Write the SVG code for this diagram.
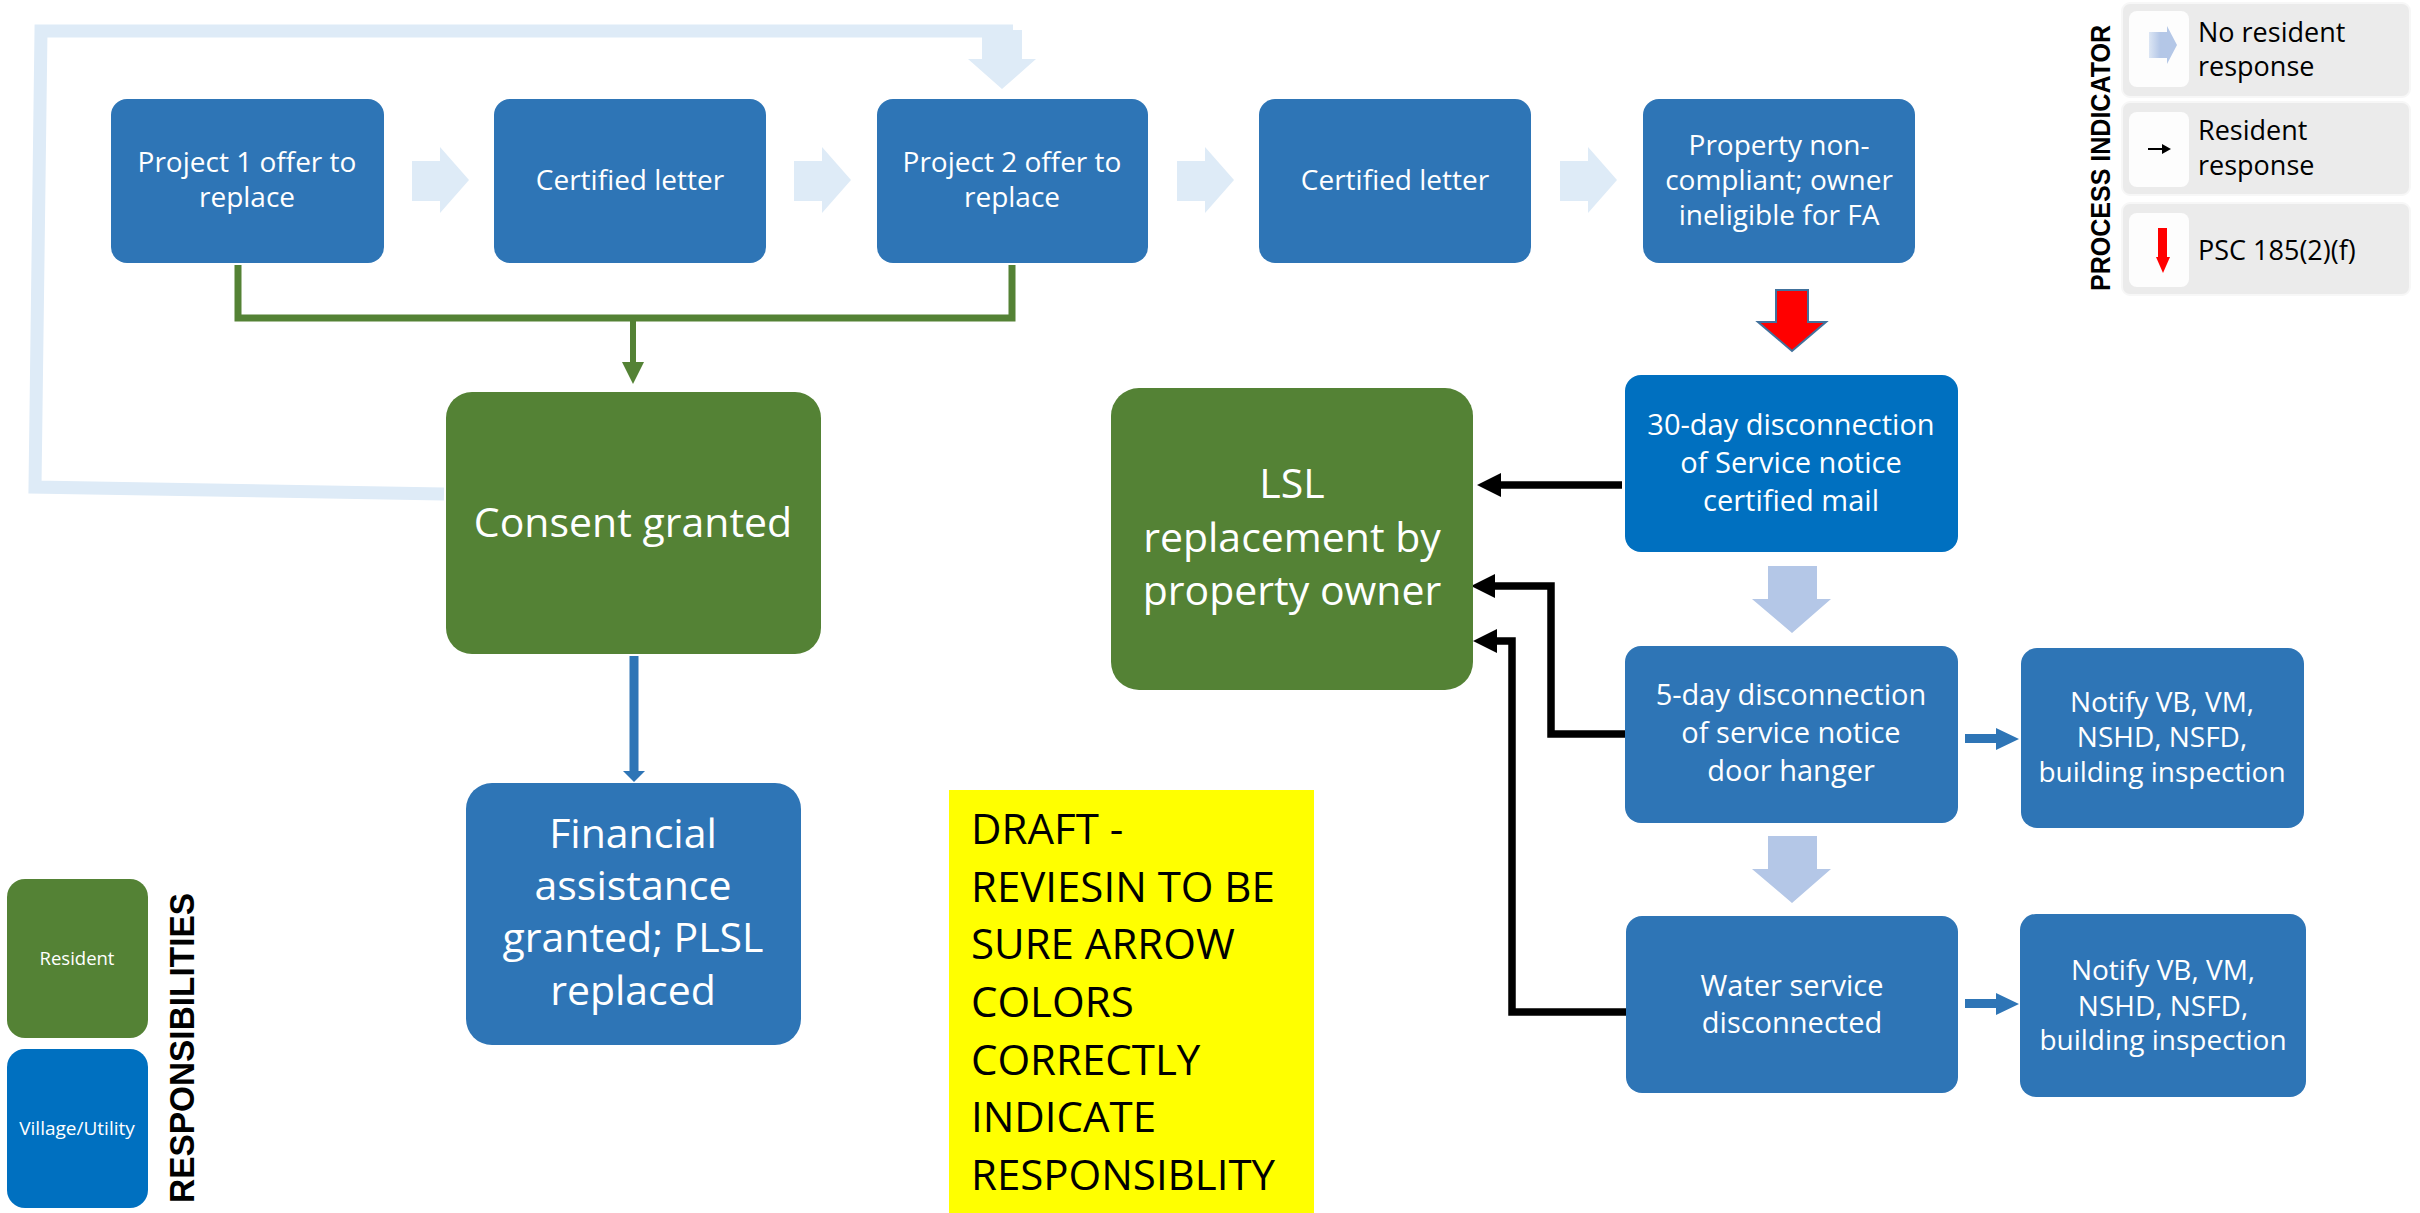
<svg xmlns="http://www.w3.org/2000/svg" width="2420" height="1213" viewBox="0 0 2420 1213">
<style>
.box{fill:#2E75B6}
.res{fill:#548235}
.vil{fill:#0070C0}
.t{font-family:'Open Sans','Liberation Sans',sans-serif;fill:#FFFFFF;text-anchor:middle}
.k{font-family:'Open Sans','Liberation Sans',sans-serif;fill:#000000}
.f28{font-size:28px}
.f29{font-size:29px}
.f41{font-size:41px}
.lg{font-size:27px}
.bold{font-family:'Liberation Sans',Arial,sans-serif;font-weight:bold;fill:#000000;text-anchor:middle}
.blk{fill:none;stroke:#000000;stroke-width:7.5;stroke-linejoin:miter}
.chev{fill:#DEEBF7}
.down{fill:#B4C7E7}
.sm{fill:#2E75B6}
.panel{fill:#EBEBEB;stroke:#F7F7F7;stroke-width:2}
.inner{fill:#FDFDFD}
</style>
<defs>
<marker id="mBlack" markerUnits="userSpaceOnUse" viewBox="0 0 24 24" markerWidth="24" markerHeight="24" refX="0" refY="12" orient="auto">
<path d="M0,0 L24,12 L0,24 z" fill="#000000"/>
</marker>
<marker id="mGreen" markerUnits="userSpaceOnUse" viewBox="0 0 22 22" markerWidth="22" markerHeight="22" refX="0" refY="11" orient="auto">
<path d="M0,0 L22,11 L0,22 z" fill="#548235"/>
</marker>
<marker id="mBlue" markerUnits="userSpaceOnUse" viewBox="0 0 11 22" markerWidth="11" markerHeight="22" refX="0" refY="11" orient="auto">
<path d="M0,0 L11,11 L0,22 z" fill="#2E75B6"/>
</marker>
<polygon id="chevron" points="412,161 440,161 440,147 469,180 440,213 440,201 412,201"/>
<polygon id="downArrow" points="1768,566 1817,566 1817,599 1831,599 1792,633 1752,599 1768,599"/>
<polygon id="smallArrow" points="1965,734 1996,734 1996,728 2019,739 1996,750 1996,743 1965,743"/>
<linearGradient id="gLeg" x1="0" y1="0" x2="1" y2="0">
<stop offset="0" stop-color="#DCE6F4"/>
<stop offset="0.4" stop-color="#B4C7E7"/>
<stop offset="1" stop-color="#B4C7E7"/>
</linearGradient>
</defs>

<g id="connectors">
<polyline points="444,494 35,487 41,31 1013,31" fill="none" stroke="#DEEBF7" stroke-width="13" stroke-linejoin="miter"/>
<polygon class="chev" points="982,30 1022,30 1022,59 1036,59 1002,89 968,59 982,59"/>
<use href="#chevron" class="chev"/>
<use href="#chevron" class="chev" x="382"/>
<use href="#chevron" class="chev" x="765"/>
<use href="#chevron" class="chev" x="1148"/>
<path d="M238,265 V318 H1012 V265" fill="none" stroke="#548235" stroke-width="7" stroke-linejoin="miter"/>
<path d="M633,318 V362" fill="none" stroke="#548235" stroke-width="6" marker-end="url(#mGreen)"/>
<path d="M634,656 V771" fill="none" stroke="#2E75B6" stroke-width="9" marker-end="url(#mBlue)"/>
<polygon points="1776,290 1808,290 1808,322 1826,322 1792,351 1758,322 1776,322" fill="#FF0000" stroke="#41719C" stroke-width="2"/>
<use href="#downArrow" class="down"/>
<use href="#downArrow" class="down" y="270"/>
<use href="#smallArrow" class="sm"/>
<use href="#smallArrow" class="sm" y="265"/>
<path class="blk" d="M1622,485 H1501" marker-end="url(#mBlack)"/>
<path class="blk" d="M1628,734 H1551 V586 H1495" marker-end="url(#mBlack)"/>
<path class="blk" d="M1627,1012 H1512 V641 H1497" marker-end="url(#mBlack)"/>
</g>

<g id="project1">
<rect class="box" x="111" y="99" width="273" height="164" rx="16"/>
<text class="t f28" x="247" y="172">Project 1 offer to</text>
<text class="t f28" x="247" y="207">replace</text>
</g>
<g id="certified1">
<rect class="box" x="494" y="99" width="272" height="164" rx="16"/>
<text class="t f28" x="630" y="190">Certified letter</text>
</g>
<g id="project2">
<rect class="box" x="877" y="99" width="271" height="164" rx="16"/>
<text class="t f28" x="1012" y="172">Project 2 offer to</text>
<text class="t f28" x="1012" y="207">replace</text>
</g>
<g id="certified2">
<rect class="box" x="1259" y="99" width="272" height="164" rx="16"/>
<text class="t f28" x="1395" y="190">Certified letter</text>
</g>
<g id="noncompliant">
<rect class="box" x="1643" y="99" width="272" height="164" rx="16"/>
<text class="t f28" x="1779" y="155">Property non-</text>
<text class="t f28" x="1779" y="190">compliant; owner</text>
<text class="t f28" x="1779" y="225">ineligible for FA</text>
</g>
<g id="consent">
<rect class="res" x="446" y="392" width="375" height="262" rx="26"/>
<text class="t f41" x="633" y="537">Consent granted</text>
</g>
<g id="financial">
<rect class="box" x="466" y="783" width="335" height="262" rx="26"/>
<text class="t f41" x="633" y="848">Financial</text>
<text class="t f41" x="633" y="900">assistance</text>
<text class="t f41" x="633" y="952">granted; PLSL</text>
<text class="t f41" x="633" y="1005">replaced</text>
</g>
<g id="lsl">
<rect class="res" x="1111" y="388" width="362" height="302" rx="28"/>
<text class="t f41" x="1292" y="498">LSL</text>
<text class="t f41" x="1292" y="552">replacement by</text>
<text class="t f41" x="1292" y="605">property owner</text>
</g>
<g id="day30">
<rect class="vil" x="1625" y="375" width="333" height="177" rx="16"/>
<text class="t f29" x="1791" y="435">30-day disconnection</text>
<text class="t f29" x="1791" y="473">of Service notice</text>
<text class="t f29" x="1791" y="511">certified mail</text>
</g>
<g id="day5">
<rect class="box" x="1625" y="646" width="333" height="177" rx="16"/>
<text class="t f29" x="1791" y="705">5-day disconnection</text>
<text class="t f29" x="1791" y="743">of service notice</text>
<text class="t f29" x="1791" y="781">door hanger</text>
</g>
<g id="water">
<rect class="box" x="1626" y="916" width="332" height="177" rx="16"/>
<text class="t f29" x="1792" y="996">Water service</text>
<text class="t f29" x="1792" y="1033">disconnected</text>
</g>
<g id="notify1">
<rect class="box" x="2021" y="648" width="283" height="180" rx="16"/>
<text class="t f28" x="2162" y="712">Notify VB, VM,</text>
<text class="t f28" x="2162" y="747">NSHD, NSFD,</text>
<text class="t f28" x="2162" y="782">building inspection</text>
</g>
<g id="notify2">
<rect class="box" x="2020" y="914" width="286" height="183" rx="16"/>
<text class="t f28" x="2163" y="980">Notify VB, VM,</text>
<text class="t f28" x="2163" y="1016">NSHD, NSFD,</text>
<text class="t f28" x="2163" y="1050">building inspection</text>
</g>
<g id="draft-note">
<rect x="949" y="790" width="365" height="423" fill="#FFFF00"/>
<text class="k" font-size="42" x="971" y="844">DRAFT -</text>
<text class="k" font-size="42" x="971" y="902">REVIESIN TO BE</text>
<text class="k" font-size="42" x="971" y="959">SURE ARROW</text>
<text class="k" font-size="42" x="971" y="1017">COLORS</text>
<text class="k" font-size="42" x="971" y="1075">CORRECTLY</text>
<text class="k" font-size="42" x="971" y="1132">INDICATE</text>
<text class="k" font-size="42" x="971" y="1190">RESPONSIBLITY</text>
</g>
<g id="responsibilities-legend">
<rect class="res" x="7" y="879" width="141" height="159" rx="18"/>
<text class="t" font-size="18.5" x="77" y="965">Resident</text>
<rect class="vil" x="7" y="1049" width="141" height="159" rx="18"/>
<text class="t" font-size="19" x="77" y="1135">Village/Utility</text>
<text class="bold" font-size="35" textLength="310" lengthAdjust="spacingAndGlyphs" transform="translate(194,1048) rotate(-90)" x="0" y="0">RESPONSIBILITIES</text>
</g>
<g id="process-indicator-legend">
<rect class="panel" x="2122" y="3" width="288" height="94" rx="8"/>
<rect class="panel" x="2122" y="102" width="288" height="93" rx="8"/>
<rect class="panel" x="2122" y="203" width="288" height="92" rx="8"/>
<rect class="inner" x="2129" y="11" width="60" height="76" rx="8"/>
<rect class="inner" x="2129" y="112" width="60" height="75" rx="8"/>
<rect class="inner" x="2129" y="213" width="60" height="74" rx="8"/>
<polygon points="2149,32 2167,32 2167,26 2177,45 2167,64 2167,58 2149,58" fill="url(#gLeg)"/>
<line x1="2148" y1="149" x2="2163" y2="149" stroke="#000000" stroke-width="2"/>
<polygon points="2162,144 2171,149 2162,154" fill="#000000"/>
<polygon points="2158,228 2167,228 2167,257 2170,257 2163,273 2156,257 2158,257" fill="#FF0000"/>
<text class="k lg" x="2198" y="42">No resident</text>
<text class="k lg" x="2198" y="76">response</text>
<text class="k lg" x="2198" y="140">Resident</text>
<text class="k lg" x="2198" y="175">response</text>
<text class="k lg" x="2198" y="260">PSC 185(2)(f)</text>
<text class="bold" font-size="28" textLength="266" lengthAdjust="spacingAndGlyphs" transform="translate(2110,158) rotate(-90)" x="0" y="0">PROCESS INDICATOR</text>
</g>
</svg>
